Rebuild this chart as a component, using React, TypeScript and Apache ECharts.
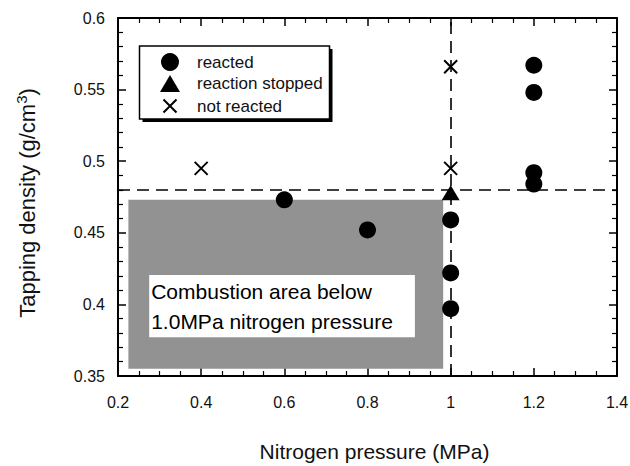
import React, { useEffect, useRef } from "react";
import * as echarts from "echarts";

// ---- data ----
const reactedX = [0.6, 0.8, 1.0, 1.0, 1.0, 1.2, 1.2, 1.2, 1.2];
const reactedY = [0.473, 0.452, 0.459, 0.422, 0.397, 0.567, 0.548, 0.492, 0.484];
const stoppedX = [1.0];
const stoppedY = [0.478];
const notReactedX = [0.4, 1.0, 1.0];
const notReactedY = [0.495, 0.566, 0.495];

const xRange = [0.2, 1.4];
const yRange = [0.35, 0.6];
const xStep = 0.2;
const yStep = 0.05;

const thresholdPressure = 1.0;
const thresholdDensity = 0.478;
const combustionAreaX = [0.225, 0.982];
const combustionAreaY = [0.355, 0.473];
const noteBoxX = [0.275, 0.914];
const noteBoxY = [0.377, 0.4205];
const noteText = "Combustion area below\n1.0MPa nitrogen pressure";

const seriesNames = ["reacted", "reaction stopped", "not reacted"];

const FONT = "Liberation Sans, Arial, Helvetica, sans-serif";

const zip = (xs: number[], ys: number[]) => xs.map((x, i) => [x, ys[i]]);
const fmt = (v: number) => String(+Number(v).toFixed(2));

const CROSS = "path://M0,0L10,10M10,0L0,10";
const LEGEND_CROSS = "path://M0,0M3.5,2.5L16.5,15.5M16.5,2.5L3.5,15.5M20,18";
const LEGEND_TRI = "path://M0,17L10,0L20,17Z";

export default function App() {
  const ref = useRef<HTMLDivElement>(null);

  useEffect(() => {
    if (!ref.current) return;
    const chart = echarts.init(ref.current, undefined, { renderer: "svg" });

    const axisCommon = {
      axisLine: { show: true, onZero: false, lineStyle: { color: "#000", width: 2 } },
      axisTick: { show: true, inside: true, length: 8, lineStyle: { color: "#000", width: 1.5 } },
      splitLine: { show: false },
    };

    const option: any = {
      animation: false,
      backgroundColor: "#fff",
      textStyle: { fontFamily: FONT },
      grid: { left: 118, right: 13, top: 18, bottom: 90, outerBoundsMode: "none" },
      xAxis: [
        {
          type: "value",
          min: xRange[0],
          max: xRange[1],
          interval: xStep,
          position: "bottom",
          ...axisCommon,
          minorTick: { show: true, splitNumber: 4, length: 5, lineStyle: { color: "#000", width: 1.2 } },
          axisLabel: { formatter: fmt, fontSize: 16, color: "#111", margin: 18, fontFamily: FONT },
          name: "Nitrogen pressure (MPa)",
          nameLocation: "middle",
          nameGap: 65,
          nameTextStyle: { fontSize: 21, color: "#111", fontFamily: FONT, padding: [0, 0, 0, 14] },
        },
        {
          type: "value",
          min: xRange[0],
          max: xRange[1],
          interval: xStep,
          position: "top",
          ...axisCommon,
          minorTick: { show: true, splitNumber: 4, length: 5, lineStyle: { color: "#000", width: 1.2 } },
          axisLabel: { show: false },
        },
      ],
      yAxis: [
        {
          type: "value",
          min: yRange[0],
          max: yRange[1],
          interval: yStep,
          position: "left",
          ...axisCommon,
          minorTick: { show: true, splitNumber: 5, length: 5, lineStyle: { color: "#000", width: 1.2 } },
          axisLabel: { formatter: fmt, fontSize: 16, color: "#111", margin: 13, fontFamily: FONT },
          name: "Tapping density (g/cm{sup|3})",
          nameLocation: "middle",
          nameGap: 77,
          nameTextStyle: {
            fontSize: 22,
            color: "#111",
            fontFamily: FONT,
            padding: [0, 12, 0, 0],
            rich: { sup: { fontSize: 15, color: "#111", fontFamily: FONT, padding: [0, 0, 12, 0] } },
          },
        },
        {
          type: "value",
          min: yRange[0],
          max: yRange[1],
          interval: yStep,
          position: "right",
          ...axisCommon,
          minorTick: { show: true, splitNumber: 5, length: 5, lineStyle: { color: "#000", width: 1.2 } },
          axisLabel: { show: false },
        },
      ],
      legend: {
        orient: "vertical",
        left: 159,
        top: 53,
        padding: 0,
        itemWidth: 20,
        itemHeight: 18,
        itemGap: 4,
        selectedMode: false,
        textStyle: { fontSize: 17, color: "#111", fontFamily: FONT, padding: [0, 0, 0, 12] },
        data: [
          { name: seriesNames[0], icon: "circle" },
          { name: seriesNames[1], icon: LEGEND_TRI },
          { name: seriesNames[2], icon: LEGEND_CROSS },
        ],
      },
      graphic: [
        { type: "rect", z: 3, shape: { x: 142.5, y: 49, width: 190, height: 73 }, style: { fill: "#000" } },
        {
          type: "rect",
          z: 3,
          shape: { x: 139.5, y: 46, width: 190, height: 73 },
          style: { fill: "#fff", stroke: "#000", lineWidth: 1.5 },
        },
      ],
      series: [
        {
          name: seriesNames[0],
          type: "scatter",
          symbol: "circle",
          symbolSize: 17,
          itemStyle: { color: "#000", opacity: 1 },
          data: zip(reactedX, reactedY),
          z: 3,
          markArea: {
            silent: true,
            data: [
              [
                {
                  coord: [combustionAreaX[0], combustionAreaY[1]],
                  itemStyle: { color: "#929292", opacity: 1 },
                  label: { show: false },
                },
                { coord: [combustionAreaX[1], combustionAreaY[0]] },
              ],
              [
                {
                  name: noteText,
                  coord: [noteBoxX[0], noteBoxY[1]],
                  itemStyle: { color: "#fff", opacity: 1 },
                  label: {
                    show: true,
                    position: "insideLeft",
                    distance: 2,
                    fontSize: 21,
                    lineHeight: 30,
                    color: "#000",
                    fontFamily: FONT,
                  },
                },
                { coord: [noteBoxX[1], noteBoxY[0]] },
              ],
            ],
          },
          markLine: {
            silent: true,
            symbol: "none",
            label: { show: false },
            lineStyle: { color: "#000", type: [12, 7], width: 1.6 },
            data: [{ yAxis: thresholdDensity }, { xAxis: thresholdPressure }],
          },
        },
        {
          name: seriesNames[1],
          type: "scatter",
          symbol: "triangle",
          symbolSize: [18, 15],
          itemStyle: { color: "#000", opacity: 1 },
          data: zip(stoppedX, stoppedY),
          z: 3,
        },
        {
          name: seriesNames[2],
          type: "scatter",
          symbol: CROSS,
          symbolSize: 13,
          itemStyle: { color: "#000", borderColor: "#000", borderWidth: 2, opacity: 1 },
          data: zip(notReactedX, notReactedY),
          z: 3,
        },
      ],
    };

    chart.setOption(option);
    return () => chart.dispose();
  }, []);

  return (
    <div
      ref={ref}
      style={{ width: 630, height: 466, position: "fixed", left: 0, top: 0, background: "#fff" }}
    />
  );
}
